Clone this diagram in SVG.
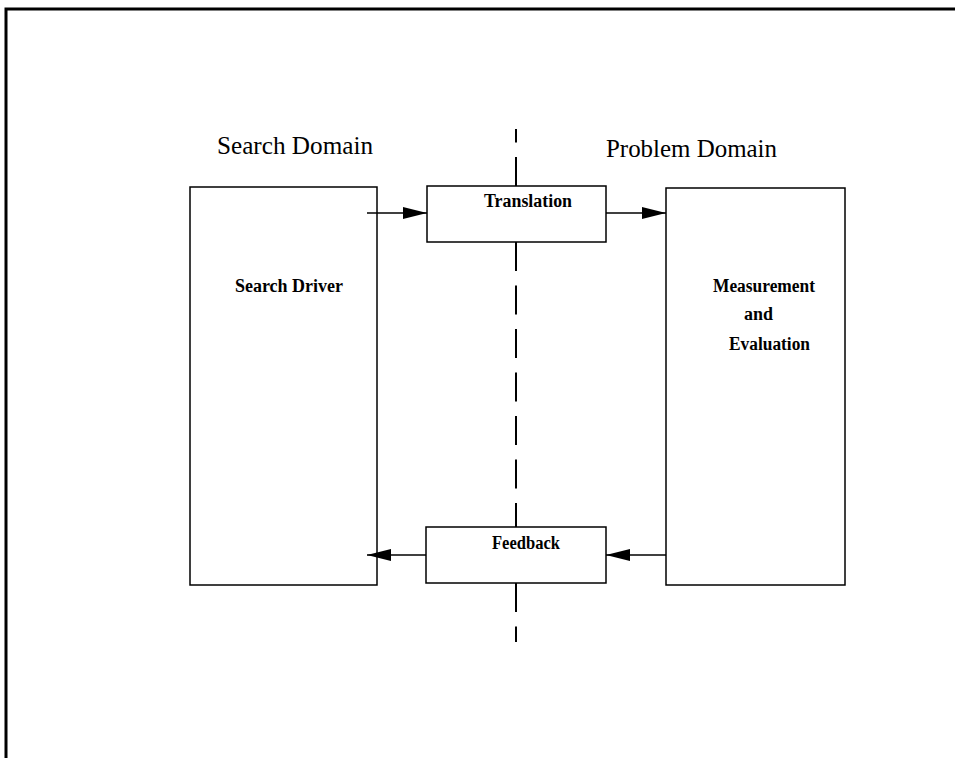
<svg xmlns="http://www.w3.org/2000/svg" width="955" height="758" viewBox="0 0 955 758">
<style>
.box{fill:#fff;stroke:#000;stroke-width:1.5}
.frame{fill:none;stroke:#000;stroke-width:3}
.conn{stroke:#000;stroke-width:1.3;fill:none}
.dash{stroke:#000;stroke-width:2;stroke-dasharray:29 14.5;fill:none}
.title{font-family:"Liberation Serif",serif;font-size:25px;fill:#000}
.label{font-family:"Liberation Serif",serif;font-size:18px;font-weight:bold;fill:#000}
</style>
<defs>
<marker id="ah" markerUnits="userSpaceOnUse" markerWidth="24" markerHeight="12" refX="24" refY="6" orient="auto">
<path d="M0,0 L24,6 L0,12 Z" fill="#000"/>
</marker>
</defs>
<rect width="955" height="758" fill="#fff"/>
<g id="frame">
<path class="frame" d="M6,758 L6,9 L955,9"/>
</g>
<g id="titles">
<text class="title" x="217" y="154" textLength="156" lengthAdjust="spacingAndGlyphs">Search Domain</text>
<text class="title" x="606" y="157" textLength="171" lengthAdjust="spacingAndGlyphs">Problem Domain</text>
</g>
<g id="divider">
<line class="dash" x1="516" y1="186" x2="516" y2="129"/>
<line class="dash" x1="516" y1="242" x2="516" y2="527"/>
<line class="dash" x1="516" y1="583" x2="516" y2="642"/>
</g>
<g id="search-driver">
<rect class="box" x="190" y="187" width="187" height="398"/>
<text class="label" x="235" y="292" textLength="108" lengthAdjust="spacingAndGlyphs">Search Driver</text>
</g>
<g id="translation">
<rect class="box" x="427" y="186" width="179" height="56"/>
<text class="label" x="484" y="207" textLength="88" lengthAdjust="spacingAndGlyphs">Translation</text>
</g>
<g id="feedback">
<rect class="box" x="426" y="527" width="180" height="56"/>
<text class="label" x="492" y="549" textLength="68" lengthAdjust="spacingAndGlyphs">Feedback</text>
</g>
<g id="measurement">
<rect class="box" x="666" y="188" width="179" height="397"/>
<text class="label" x="713" y="292" textLength="102" lengthAdjust="spacingAndGlyphs">Measurement</text>
<text class="label" x="744" y="320" textLength="29" lengthAdjust="spacingAndGlyphs">and</text>
<text class="label" x="729" y="350" textLength="81" lengthAdjust="spacingAndGlyphs">Evaluation</text>
</g>
<g id="connectors">
<line class="conn" x1="367" y1="213" x2="427" y2="213" marker-end="url(#ah)"/>
<line class="conn" x1="606" y1="213" x2="666" y2="213" marker-end="url(#ah)"/>
<line class="conn" x1="426" y1="555" x2="367" y2="555" marker-end="url(#ah)"/>
<line class="conn" x1="666" y1="555" x2="606" y2="555" marker-end="url(#ah)"/>
</g>
</svg>
